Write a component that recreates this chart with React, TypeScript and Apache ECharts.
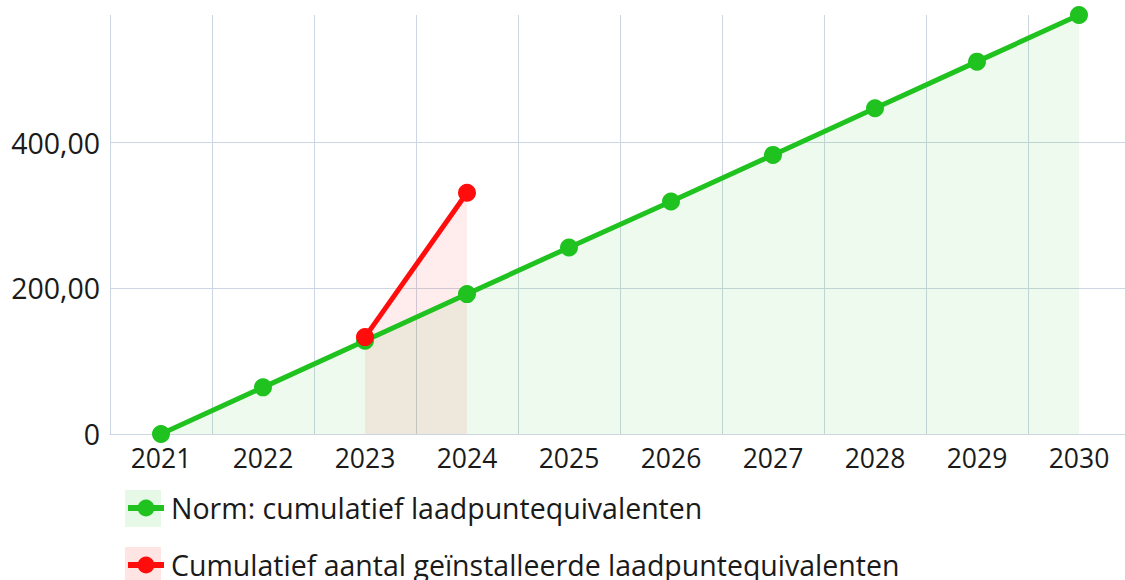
import React, { useEffect, useRef } from "react";
import * as echarts from "echarts";

const years = ["2021", "2022", "2023", "2024", "2025", "2026", "2027", "2028", "2029", "2030"];
const normValues = [0, 64, 128, 192, 256, 319, 383, 447, 511, 575];
const installedValues: (number | null)[] = [null, null, 133, 331, null, null, null, null, null, null];
const normName = "Norm: cumulatief laadpuntequivalenten";
const installedName = "Cumulatief aantal geïnstalleerde laadpuntequivalenten";

const GREEN = "#1fc21f";
const RED = "#ff0d0d";
const GREEN_AREA = "rgba(31,194,31,0.115)";
const RED_AREA = "rgba(255,13,13,0.11)";
const FONT = "Open Sans";

const legendBase = {
  orient: "horizontal",
  left: 125,
  padding: 0,
  itemWidth: 36,
  itemHeight: 21,
  lineStyle: { width: 6 },
  textStyle: { fontSize: 28.5, color: "#1a1a1a", fontFamily: FONT, lineHeight: 34, padding: [0, 0, 0, 2] },
};

export default function App() {
  const ref = useRef<HTMLDivElement>(null);
  useEffect(() => {
    if (!ref.current) return;
    const chart = echarts.init(ref.current, undefined, { renderer: "svg" });
    chart.setOption({
      animation: false,
      textStyle: { fontFamily: FONT },
      grid: { left: 110, right: 2, top: 15, bottom: 146, containLabel: false },
      xAxis: {
        type: "category",
        data: years,
        boundaryGap: true,
        axisLine: { lineStyle: { color: "#ccd6e2", width: 1 } },
        axisTick: { show: false },
        axisLabel: { color: "#1a1a1a", fontSize: 26.5, margin: 10, fontFamily: FONT },
        splitLine: { show: true, lineStyle: { color: "#ccd6e2", width: 1 } },
      },
      yAxis: {
        type: "value",
        min: 0,
        max: 575,
        interval: 200,
        axisLine: { show: false },
        axisTick: { show: false },
        axisLabel: {
          color: "#1a1a1a",
          fontSize: 28.5,
          margin: 10,
          fontFamily: FONT,
          showMaxLabel: false,
          formatter: (v: number) => (v === 0 ? "0" : v.toFixed(2).replace(".", ",")),
        },
        splitLine: { show: true, showMaxLine: false, lineStyle: { color: "#ccd6e2", width: 1 } },
      },
      legend: [
        { ...legendBase, top: 491, data: [normName] },
        { ...legendBase, top: 548, data: [installedName] },
      ],
      graphic: [
        { type: "rect", z: -1, shape: { x: 125, y: 490, width: 36, height: 37 }, style: { fill: GREEN_AREA } },
        { type: "rect", z: -1, shape: { x: 125, y: 547, width: 36, height: 37 }, style: { fill: RED_AREA } },
      ],
      series: [
        {
          name: normName,
          type: "line",
          data: normValues,
          symbol: "circle",
          symbolSize: 18,
          lineStyle: { color: GREEN, width: 5 },
          itemStyle: { color: GREEN },
          areaStyle: { color: GREEN_AREA },
        },
        {
          name: installedName,
          type: "line",
          data: installedValues,
          symbol: "circle",
          symbolSize: 18,
          lineStyle: { color: RED, width: 5 },
          itemStyle: { color: RED },
          areaStyle: { color: RED_AREA },
        },
      ],
    });
    return () => chart.dispose();
  }, []);
  return (
    <div style={{ position: "fixed", left: 0, top: 0, width: 1125, height: 580, overflow: "hidden", background: "#fff" }}>
      <div ref={ref} style={{ width: 1132, height: 580 }} />
    </div>
  );
}
